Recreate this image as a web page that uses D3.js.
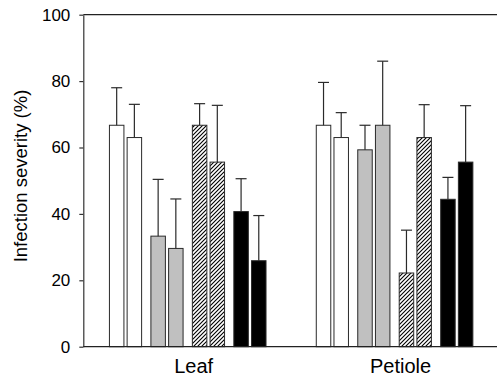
<!DOCTYPE html>
<html>
<head>
<meta charset="utf-8">
<script src="https://cdn.jsdelivr.net/npm/d3@7"></script>
<style>
  html, body { margin: 0; padding: 0; background: #fff; }
  svg { display: block; font-family: "Liberation Sans", Arial, Helvetica, sans-serif; }
</style>
</head>
<body>
<svg id="chart" width="497" height="377"></svg>
<script>
// Tissue groups along the x axis
const groups = ["Leaf", "Petiole"];
// Four treatments, each shown as a pair of bars
const treatments = ["white", "grey", "hatched", "black"];
const pairMembers = [0, 1];

// Mean infection severity (%) per bar, in drawing order (treatment pairs)
const leafMeans    = [66.7, 63.0, 33.3, 29.6, 66.7, 55.6, 40.7, 25.9];
const leafErrors   = [11.3, 10.0, 17.1, 14.9,  6.5, 17.1,  9.9, 13.6];
const petioleMeans = [66.7, 63.0, 59.3, 66.7, 22.2, 63.0, 44.4, 55.6];
const petioleErrors= [12.9,  7.5,  7.4, 19.3, 12.9,  9.9,  6.6, 17.0];

const yTicks = [0, 20, 40, 60, 80, 100];

const seriesByGroup = {
  Leaf:    { means: leafMeans, errors: leafErrors },
  Petiole: { means: petioleMeans, errors: petioleErrors }
};

const rows = [];
groups.forEach(g => {
  const s = seriesByGroup[g];
  s.means.forEach((m, i) => {
    rows.push({
      group: g,
      treatment: treatments[Math.floor(i / 2)],
      member: i % 2,
      mean: m,
      err: s.errors[i]
    });
  });
});

const W = 497, H = 377;
const plotLeft = 83.3, plotRight = 497, plotTop = 14.7, plotBottom = 346.7;

const svg = d3.select("#chart");

// Hatched fill: thin diagonal strokes
const defs = svg.append("defs");
const pat = defs.append("pattern")
  .attr("id", "hatch")
  .attr("patternUnits", "userSpaceOnUse")
  .attr("width", 4).attr("height", 4);
pat.append("rect").attr("width", 4).attr("height", 4).attr("fill", "#fff");
pat.append("path")
  .attr("d", "M-1,1 l2,-2 M0,4 l4,-4 M3,5 l2,-2")
  .attr("stroke", "#000").attr("stroke-width", 1.1);

const fills = {
  white: "#ffffff",
  grey: "#c0c0c0",
  hatched: "url(#hatch)",
  black: "#000000"
};

const x0 = d3.scaleBand().domain(groups).range([plotLeft + 1, plotRight + 1]);
const x1 = d3.scaleBand().domain(treatments)
  .range([0, x0.bandwidth()])
  .paddingInner(0.224).paddingOuter(0.606);
const x2 = d3.scaleBand().domain(pairMembers)
  .range([0, x1.bandwidth()])
  .paddingInner(0.181);

const y = d3.scaleLinear().domain([0, 100]).range([plotBottom, plotTop]);

const barX = d => x0(d.group) + x1(d.treatment) + x2(d.member);

// Bars
svg.append("g").selectAll("rect")
  .data(rows)
  .join("rect")
  .attr("x", d => barX(d))
  .attr("y", d => y(d.mean))
  .attr("width", x2.bandwidth())
  .attr("height", d => y(0) - y(d.mean))
  .attr("fill", d => fills[d.treatment])
  .attr("stroke", "#2a2a2a")
  .attr("stroke-width", 1);

// Upper error bars
const eb = svg.append("g").attr("stroke", "#2a2a2a").attr("stroke-width", 1.2);
rows.forEach(d => {
  const cx = barX(d) + x2.bandwidth() / 2;
  eb.append("line")
    .attr("x1", cx).attr("x2", cx)
    .attr("y1", y(d.mean)).attr("y2", y(d.mean + d.err));
  eb.append("line")
    .attr("x1", cx - 5.5).attr("x2", cx + 5.5)
    .attr("y1", y(d.mean + d.err)).attr("y2", y(d.mean + d.err));
});

// Y axis
const yAxis = d3.axisLeft(y).tickValues(yTicks).tickSize(4).tickPadding(9).tickSizeOuter(0);
const gy = svg.append("g").attr("transform", `translate(${plotLeft},0)`).call(yAxis);
gy.select(".domain").attr("stroke", "#333").attr("stroke-width", 1.2);
gy.selectAll(".tick line").attr("stroke", "#333").attr("stroke-width", 1.2);
gy.selectAll(".tick text")
  .attr("font-size", 17)
  .attr("fill", "#000")
  .attr("font-family", "'Liberation Sans', Arial, sans-serif");

// Baseline and top frame line
svg.append("line")
  .attr("x1", plotLeft).attr("x2", W)
  .attr("y1", y(0)).attr("y2", y(0))
  .attr("stroke", "#222").attr("stroke-width", 1.3);
svg.append("line")
  .attr("x1", plotLeft).attr("x2", W)
  .attr("y1", y(100)).attr("y2", y(100))
  .attr("stroke", "#222").attr("stroke-width", 1.3);

// Group labels
svg.append("g").selectAll("text")
  .data(groups)
  .join("text")
  .attr("x", d => x0(d) + x0.bandwidth() / 2 + 6)
  .attr("y", 372.5)
  .attr("text-anchor", "middle")
  .attr("font-size", 20)
  .attr("fill", "#000")
  .text(d => d);

// Y axis title
svg.append("text")
  .attr("transform", "rotate(-90)")
  .attr("x", -176)
  .attr("y", 27.3)
  .attr("text-anchor", "middle")
  .attr("font-size", 18.5)
  .attr("fill", "#000")
  .text("Infection severity (%)");
</script>
</body>
</html>
